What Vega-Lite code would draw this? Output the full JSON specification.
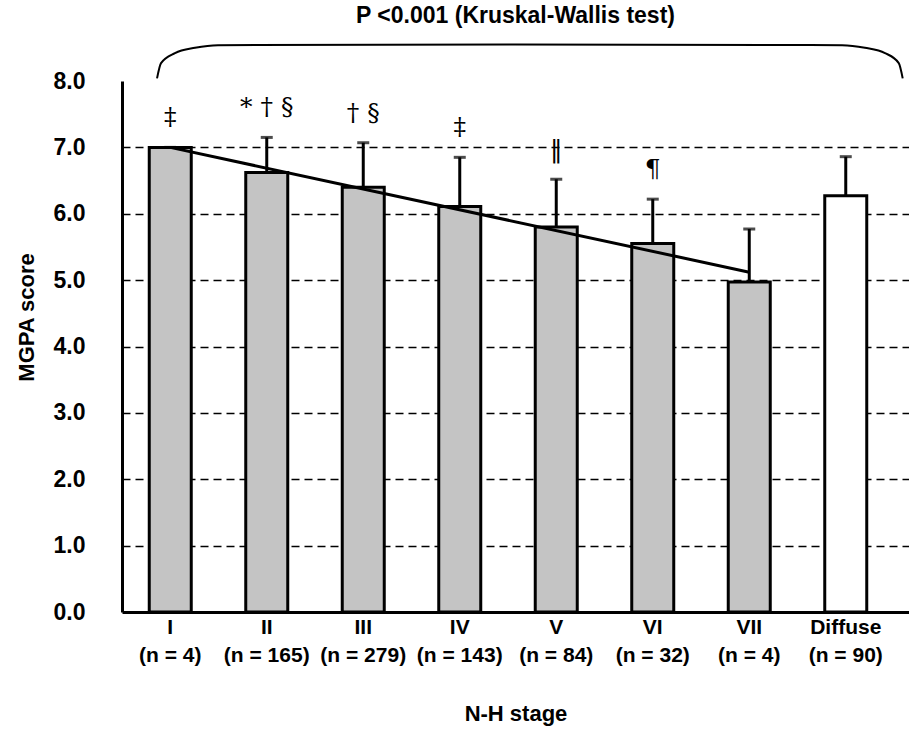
{
  "$schema": "https://vega.github.io/schema/vega-lite/v6.json",
  "width": 787,
  "height": 531,
  "autosize": {"type": "none"},
  "padding": {"left": 122, "top": 81, "right": 0, "bottom": 141},
  "background": "white",
  "config": {"view": {"stroke": null}, "font": "Liberation Sans"},
  "title": {
    "text": "P <0.001 (Kruskal-Wallis test)",
    "frame": "group",
    "anchor": "middle",
    "baseline": "bottom",
    "offset": -11,
    "fontSize": 23,
    "fontWeight": "bold",
    "font": "Liberation Sans",
    "color": "black"
  },
  "datasets": {
    "stages": [
      {"stage": "I", "n": 4, "mean": 7.0, "top": 7.0, "trend": 7.0, "note": "‡"},
      {"stage": "II", "n": 165, "mean": 6.62, "top": 7.15, "trend": null, "note": "* † §"},
      {"stage": "III", "n": 279, "mean": 6.4, "top": 7.07, "trend": null, "note": "†  §"},
      {"stage": "IV", "n": 143, "mean": 6.11, "top": 6.85, "trend": null, "note": "‡"},
      {"stage": "V", "n": 84, "mean": 5.8, "top": 6.52, "trend": null, "note": "‖"},
      {"stage": "VI", "n": 32, "mean": 5.55, "top": 6.22, "trend": null, "note": "¶"},
      {"stage": "VII", "n": 4, "mean": 4.97, "top": 5.77, "trend": 5.12, "note": ""},
      {"stage": "Diffuse", "n": 90, "mean": 6.27, "top": 6.86, "trend": null, "note": ""}
    ],
    "bracket": [
      {"bx": 0.0445, "by": 8.04},
      {"bx": 0.0496, "by": 8.27},
      {"bx": 0.0673, "by": 8.42},
      {"bx": 0.0928, "by": 8.5},
      {"bx": 0.122, "by": 8.54},
      {"bx": 0.5, "by": 8.55},
      {"bx": 0.915, "by": 8.54},
      {"bx": 0.944, "by": 8.5},
      {"bx": 0.9695, "by": 8.42},
      {"bx": 0.987, "by": 8.27},
      {"bx": 0.992, "by": 8.04}
    ]
  },
  "layer": [
    {
      "data": {"name": "stages"},
      "encoding": {
        "x": {
          "field": "stage",
          "type": "nominal",
          "sort": null,
          "scale": {"paddingInner": 0, "paddingOuter": 0.0777, "align": 0, "round": false},
          "axis": {
            "labelExpr": "[datum.value, {'I':'(n = 4)','II':'(n = 165)','III':'(n = 279)','IV':'(n = 143)','V':'(n = 84)','VI':'(n = 32)','VII':'(n = 4)','Diffuse':'(n = 90)'}[datum.value]]",
            "labelAngle": 0,
            "labelFont": "Liberation Sans",
            "labelFontWeight": "bold",
            "labelFontSize": 21,
            "labelColor": "black",
            "labelLineHeight": 28,
            "labelPadding": 4,
            "labelOverlap": false,
            "labelBound": false,
            "ticks": false,
            "domainColor": "black",
            "domainWidth": 3,
            "title": "N-H stage",
            "titleFont": "Liberation Sans",
            "titleFontSize": 22,
            "titleFontWeight": "bold",
            "titleColor": "black",
            "titleY": 101,
            "titleBaseline": "middle"
          }
        }
      },
      "layer": [
        {
          "mark": {"type": "bar", "width": 42, "stroke": "black", "strokeWidth": 3},
          "encoding": {
            "y": {
              "field": "mean",
              "type": "quantitative",
              "scale": {"domain": [0, 8], "nice": false},
              "axis": {
                "values": [0, 1, 2, 3, 4, 5, 6, 7, 8],
                "format": ".1f",
                "labelFont": "Liberation Sans",
                "labelFontWeight": "bold",
                "labelFontSize": 23,
                "labelColor": "black",
                "labelPadding": 37,
                "ticks": false,
                "domainColor": "black",
                "domainWidth": 3,
                "grid": true,
                "gridColor": "black",
                "gridDash": [8, 5],
                "gridWidth": 1.5,
                "gridOpacity": {"condition": {"test": "datum.value == 0 || datum.value == 8", "value": 0}, "value": 1},
                "title": "MGPA score",
                "titleFont": "Liberation Sans",
                "titleFontSize": 22,
                "titleFontWeight": "bold",
                "titleColor": "black",
                "titleX": -96,
                "titleY": 236,
                "titleAngle": -90,
                "titleAlign": "center",
                "titleBaseline": "middle"
              }
            },
            "fill": {"condition": {"test": "datum.stage === 'Diffuse'", "value": "white"}, "value": "#c4c4c4"}
          }
        },
        {
          "mark": {"type": "rule", "strokeWidth": 3, "color": "black"},
          "encoding": {
            "y": {"field": "mean", "type": "quantitative"},
            "y2": {"field": "top"}
          }
        },
        {
          "mark": {"type": "tick", "size": 12, "thickness": 3, "color": "black"},
          "encoding": {
            "y": {"field": "top", "type": "quantitative"}
          }
        },
        {
          "transform": [{"filter": "datum.trend != null"}],
          "mark": {"type": "line", "strokeWidth": 3, "color": "black"},
          "encoding": {
            "y": {"field": "trend", "type": "quantitative"}
          }
        },
        {
          "mark": {"type": "text", "font": "DejaVu Serif", "fontSize": 25, "color": "black", "baseline": "middle", "dy": -30},
          "encoding": {
            "y": {"field": "top", "type": "quantitative"},
            "text": {"field": "note"}
          }
        }
      ]
    },
    {
      "data": {"name": "bracket"},
      "mark": {"type": "line", "interpolate": "monotone", "color": "black", "strokeWidth": 2},
      "encoding": {
        "x": {"field": "bx", "type": "quantitative", "scale": {"domain": [0, 1], "zero": false, "nice": false}, "axis": null},
        "y": {"field": "by", "type": "quantitative", "scale": {"domain": [0, 8], "nice": false, "zero": false}, "axis": null}
      }
    }
  ],
  "resolve": {"scale": {"x": "independent", "y": "independent"}}
}
